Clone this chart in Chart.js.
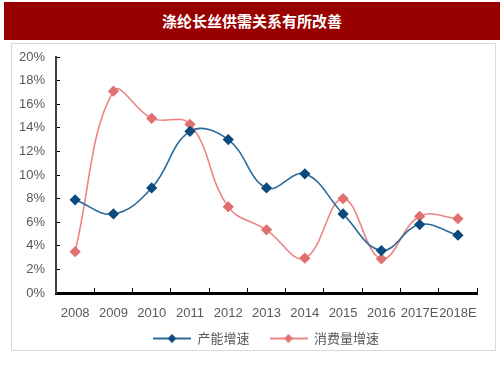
<!DOCTYPE html>
<html>
<head>
<meta charset="utf-8">
<script src="https://cdn.jsdelivr.net/npm/chart.js@4/dist/chart.umd.min.js"></script>
<style>
  body { margin: 0; background: #fff; width: 503px; height: 378px; position: relative; overflow: hidden; }
  #title { position: absolute; left: 4px; top: 2px; width: 496px; height: 38px; background: #990000;
    color: #fff; font: bold 15px "Noto Sans CJK SC", sans-serif; text-align: center; line-height: 38px; }
  #frame { position: absolute; left: 11px; top: 43px; width: 483px; height: 306px; border: 1px solid #d9d9d9; }
  #wrap { position: absolute; left: 0; top: 0; width: 483px; height: 306px; }
</style>
</head>
<body>
<div id="title">涤纶长丝供需关系有所改善</div>
<div id="frame"><div id="wrap"><canvas id="supplyChart"></canvas></div></div>
<script>
// categories and series (%)
const years = ['2008', '2009', '2010', '2011', '2012', '2013', '2014', '2015', '2016', '2017E', '2018E'];
const capacityGrowth = [7.9, 6.7, 8.9, 13.7, 13.0, 8.9, 10.1, 6.7, 3.6, 5.8, 4.9];
const consumptionGrowth = [3.5, 17.1, 14.8, 14.3, 7.3, 5.35, 2.95, 8.0, 2.9, 6.5, 6.3];
const yTicks = [0, 2, 4, 6, 8, 10, 12, 14, 16, 18, 20];

// legend swatch: short line with a diamond in the middle
function swatch(lineColor, pointColor) {
  const c = document.createElement('canvas');
  c.width = 38; c.height = 12;
  const ctx = c.getContext('2d');
  ctx.strokeStyle = lineColor; ctx.lineWidth = 2;
  ctx.beginPath(); ctx.moveTo(0, 6); ctx.lineTo(38, 6); ctx.stroke();
  ctx.fillStyle = pointColor;
  ctx.beginPath(); ctx.moveTo(19, 1.5); ctx.lineTo(23.5, 6); ctx.lineTo(19, 10.5); ctx.lineTo(14.5, 6); ctx.closePath(); ctx.fill();
  return c;
}

// move legend a bit right and up, like the original
const legendShift = {
  id: 'legendShift',
  afterLayout(chart) {
    const l = chart.legend;
    l.left += 15; l.right += 15;
    l.top -= 17; l.bottom -= 17;
  }
};

const font = { family: '"Liberation Sans", Arial, "Noto Sans CJK SC", sans-serif', size: 13 };

const supplyChart = new Chart(document.getElementById('supplyChart'), {
  type: 'line',
  data: {
    labels: years,
    datasets: [{
      label: '产能增速',
      data: capacityGrowth,
      borderColor: '#2a6b9b',
      backgroundColor: '#0b4a7d',
      pointBackgroundColor: '#0b4a7d',
      pointBorderColor: '#0b4a7d',
      pointStyle: 'rectRot',
      pointRadius: 4.5,
      borderWidth: 1.6,
      tension: 0.4,
    }, {
      label: '消费量增速',
      data: consumptionGrowth,
      borderColor: '#ec8585',
      backgroundColor: '#e07070',
      pointBackgroundColor: '#e07070',
      pointBorderColor: '#e07070',
      pointStyle: 'rectRot',
      pointRadius: 4.5,
      borderWidth: 1.6,
      tension: 0.4,
    }]
  },
  options: {
    responsive: true,
    maintainAspectRatio: false,
    animation: false,
    layout: { padding: { top: 13, right: 5, left: 0, bottom: -22 } },
    scales: {
      x: {
        offset: true,
        grid: { offset: true, drawOnChartArea: false, tickLength: -5, color: '#000', tickWidth: 1 },
        border: { color: '#000', width: 3 },
        ticks: { color: '#595959', font: font, padding: 18, maxRotation: 0, autoSkip: false },
        afterFit: s => { s.height = 36; },
      },
      y: {
        min: 0, max: 20,
        afterBuildTicks: s => { s.ticks = yTicks.map(v => ({ value: v })); },
        grid: { drawOnChartArea: false, tickLength: -4, color: '#000', tickWidth: 1 },
        border: { color: '#404040', width: 2 },
        ticks: { color: '#595959', font: font, padding: 15, callback: v => v + '%' },
        afterFit: s => { s.width = 44; s.paddingTop = 0; s.paddingBottom = 0; },
      }
    },
    plugins: {
      legend: {
        position: 'bottom',
        labels: {
          color: '#595959',
          font: { family: '"Noto Sans CJK SC", sans-serif', size: 13 },
          usePointStyle: true,
          pointStyleWidth: 38,
          padding: 20,
          generateLabels: chart => chart.data.datasets.map((d, i) => ({
            text: d.label,
            pointStyle: swatch(d.borderColor, d.pointBackgroundColor),
            fontColor: '#595959',
            datasetIndex: i,
            lineWidth: 0,
          })),
        },
      },
      tooltip: { enabled: false },
    },
  },
  plugins: [legendShift],
});
</script>
</body>
</html>
